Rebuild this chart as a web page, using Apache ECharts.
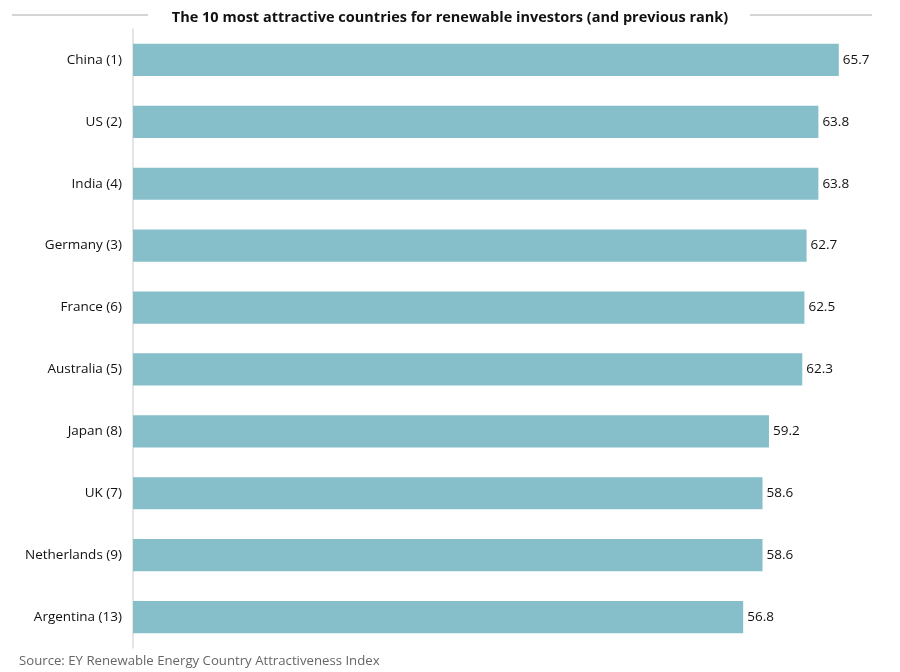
<!DOCTYPE html>
<html><head><meta charset="utf-8">
<script src="https://cdn.jsdelivr.net/npm/echarts@6/dist/echarts.min.js"></script>
<style>html,body{margin:0;padding:0;background:#fff}#c{width:900px;height:672px}</style>
</head><body><div id="c"></div>
<script>
const categories = ["China (1)","US (2)","India (4)","Germany (3)","France (6)","Australia (5)","Japan (8)","UK (7)","Netherlands (9)","Argentina (13)"];
const values = [65.7,63.8,63.8,62.7,62.5,62.3,59.2,58.6,58.6,56.8];
const titleText = "The 10 most attractive countries for renewable investors (and previous rank)";
const sourceText = "Source: EY Renewable Energy Country Attractiveness Index";
const FONT = '"Open Sans",sans-serif';
const chart = echarts.init(document.getElementById('c'));
chart.setOption({
  animation:false,
  title:{text:titleText,left:'center',top:5,textStyle:{fontFamily:FONT,fontSize:14.5,fontWeight:'bold',color:'#111'}},
  grid:{left:133,right:15,top:29,bottom:24,containLabel:false},
  xAxis:{type:'value',min:0,max:70,show:false},
  yAxis:{type:'category',data:categories,inverse:true,
    axisLine:{show:true,lineStyle:{color:'#dcdcdc',width:1.5}},axisTick:{show:false},
    axisLabel:{fontFamily:FONT,fontSize:13.5,color:'#111',margin:11,padding:[2,0,0,0]}},
  series:[{type:'bar',data:values,barWidth:'52%',itemStyle:{color:'#86BFCA'},
    label:{show:true,position:'right',distance:4,fontFamily:FONT,fontSize:13.5,color:'#111',padding:[2,0,0,0],formatter:p=>p.value.toFixed(1)}}],
  graphic:[
    {type:'line',shape:{x1:12,y1:15,x2:148,y2:15},style:{stroke:'#aaa',lineWidth:1}},
    {type:'line',shape:{x1:750,y1:15,x2:872,y2:15},style:{stroke:'#aaa',lineWidth:1}},
    {type:'text',left:19,top:655,style:{text:sourceText,font:'13.2px "Open Sans",sans-serif',fill:'#666'}}
  ]
});
</script></body></html>
